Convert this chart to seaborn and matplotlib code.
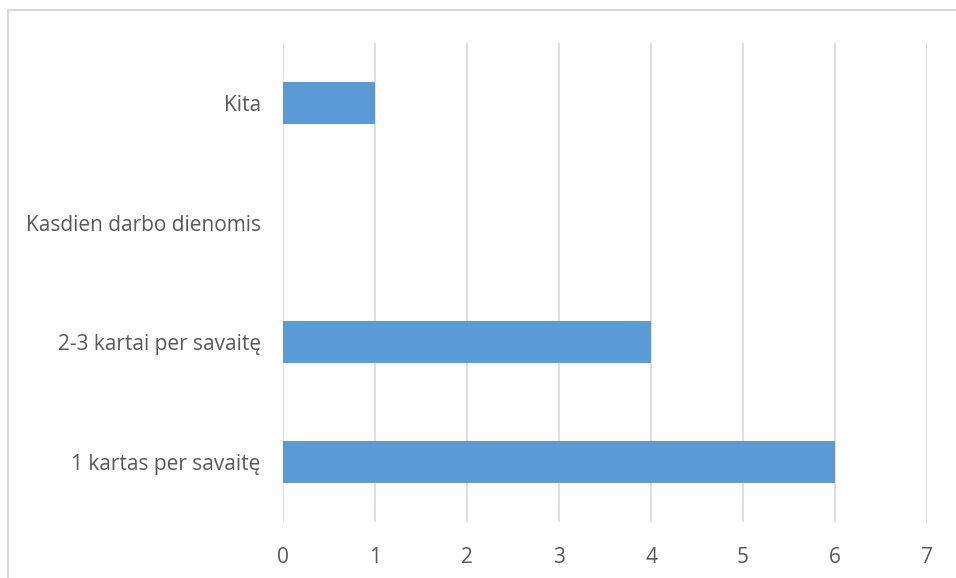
import pandas as pd
import seaborn as sns
from matplotlib import pyplot as plt
from matplotlib.patches import Rectangle

sns.set_theme(style="white")
plt.rcParams['font.family'] = ['Open Sans', 'DejaVu Sans']

categories = ['Kita', 'Kasdien darbo dienomis', '2-3 kartai per savaitę', '1 kartas per savaitę']
values = [1, 0, 4, 6]
x_ticks = [0, 1, 2, 3, 4, 5, 6, 7]

df = pd.DataFrame({'Kategorija': categories, 'Kiekis': values})

fig = plt.figure(figsize=(9.56, 5.78), dpi=100)
ax = fig.add_axes([283/956, 1 - 522/578, (927 - 283)/956, (522 - 43)/578])

sns.barplot(data=df, y='Kategorija', x='Kiekis', order=categories,
            color='#5b9bd5', saturation=1, width=0.35, linewidth=0,
            ax=ax, zorder=3)

ax.set_xlim(0, 7)
ax.set_xticks(x_ticks)
ax.set_ylim(3.5, -0.5)
ax.xaxis.grid(True, color='#d9d9d9', linewidth=1.2, zorder=0)
ax.yaxis.grid(False)
for s in ax.spines.values():
    s.set_visible(False)
ax.set_xlabel('')
ax.set_ylabel('')
ax.tick_params(axis='x', length=0, pad=18, labelsize=15, labelcolor='#595959')
ax.tick_params(axis='y', length=0, pad=16, labelsize=15, labelcolor='#595959')

# outer chart border (cropped on the right and bottom)
fig.patches.append(Rectangle((8/956, -0.1), 1.2, 1 - 10/578 + 0.1,
                             transform=fig.transFigure, fill=False,
                             edgecolor='#d9d9d9', linewidth=1.5))

fig.savefig('out.png', dpi=100)
